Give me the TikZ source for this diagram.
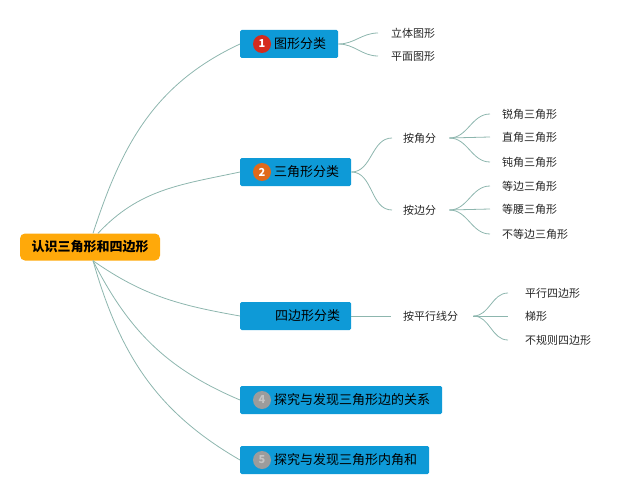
\documentclass[tikz,border=0pt]{standalone}
\usepackage{fontspec}
\setmainfont{Noto Sans CJK SC}
\usetikzlibrary{positioning}
\definecolor{boxblue}{HTML}{0E9AD7}
\definecolor{rootorange}{HTML}{FFA90A}
\definecolor{branchline}{HTML}{8DB6AE}
\definecolor{dotred}{HTML}{D52B1E}
\definecolor{dotorange}{HTML}{E06A1B}
\definecolor{dotgrey}{HTML}{9C9C9C}
\definecolor{dotgreytext}{HTML}{C4C4C4}

\begin{document}
\begin{tikzpicture}[x=1pt, y=1pt,
   root/.style={fill=rootorange, rounded corners=5pt, minimum width=140pt, minimum height=27pt,
      inner sep=0pt, font=\fontsize{13}{13}\selectfont\bfseries},
   topic/.style={fill=boxblue, rounded corners=1.5pt, minimum height=28pt, anchor=west,
      inner xsep=0pt, font=\fontsize{13}{13}\selectfont},
   numdot/.style={circle, fill=#1, minimum size=18pt, inner sep=0pt, text=white,
      font=\fontsize{11}{11}\selectfont\bfseries},
   leaf/.style={anchor=west, inner sep=0pt, font=\fontsize{11}{11}\selectfont, text=black!85},
   branch/.style={draw=branchline, line width=0.8pt}]
   \useasboundingbox (0,0) rectangle (640,-495);

   % Root
   \node[root] (root) at (90,-247) {认识三角形和四边形};

   % Main topics
   \node[topic] (t1) at (240,-44) {\hspace*{34pt}图形分类\hspace*{12pt}};
   \node[topic] (t2) at (240,-172) {\hspace*{34pt}三角形分类\hspace*{12pt}};
   \node[topic] (t3) at (240,-316) {\hspace*{35pt}四边形分类\hspace*{11pt}};
   \node[topic] (t4) at (240,-400) {\hspace*{34pt}探究与发现三角形边的关系\hspace*{12pt}};
   \node[topic] (t5) at (240,-460) {\hspace*{34pt}探究与发现三角形内角和\hspace*{12pt}};

   % Number dots
   \node[numdot=dotred] (d1) at ([xshift=22pt]t1.west) {1};
   \node[numdot=dotorange] (d2) at ([xshift=22pt]t2.west) {2};
   \node[numdot=dotgrey, text=dotgreytext] (d4) at ([xshift=22pt]t4.west) {4};
   \node[numdot=dotgrey, text=dotgreytext] (d5) at ([xshift=22pt]t5.west) {5};

   % Second level
   \node[leaf] (solid) at (391,-33) {立体图形};
   \node[leaf] (plane) at (391,-56) {平面图形};
   \node[leaf] (byangle) at (403,-138) {按角分};
   \node[leaf] (byside) at (403,-210) {按边分};
   \node[leaf] (byparallel) at (403,-316) {按平行线分};

   % Third level
   \node[leaf] (acute) at (502,-114) {锐角三角形};
   \node[leaf] (right) at (502,-137) {直角三角形};
   \node[leaf] (obtuse) at (502,-162) {钝角三角形};
   \node[leaf] (equi) at (502,-186) {等边三角形};
   \node[leaf] (isos) at (502,-209) {等腰三角形};
   \node[leaf] (scal) at (502,-234) {不等边三角形};
   \node[leaf] (para) at (525,-293) {平行四边形};
   \node[leaf] (trap) at (525,-316) {梯形};
   \node[leaf] (irreg) at (525,-340) {不规则四边形};

   % Branches from root
   \path[branch]
    ([xshift=3pt]root.north) edge[out=72, in=205] (t1.west)
    ([xshift=8pt]root.north) edge[out=47, in=192] (t2.west)
    ([xshift=3pt]root.south) edge[out=-35, in=170] (t3.west)
    ([xshift=3pt]root.south) edge[out=-63, in=157] (t4.west)
    ([xshift=3pt]root.south) edge[out=-74, in=150] (t5.west);

   % Branches to sub items
   \path[branch]
    (t1.east) edge[out=0, in=180] ([xshift=-13pt]solid.west)
    (t1.east) edge[out=0, in=180] ([xshift=-13pt]plane.west)
    (t2.east) edge[out=0, in=180] ([xshift=-11pt]byangle.west)
    (t2.east) edge[out=0, in=180] ([xshift=-11pt]byside.west)
    (t3.east) edge ([xshift=-12pt]byparallel.west)
    ([xshift=13pt]byangle.east) edge[out=0, in=180] ([xshift=-12pt]acute.west)
    ([xshift=13pt]byangle.east) edge ([xshift=-12pt]right.west)
    ([xshift=13pt]byangle.east) edge[out=0, in=180] ([xshift=-12pt]obtuse.west)
    ([xshift=13pt]byside.east) edge[out=0, in=180] ([xshift=-12pt]equi.west)
    ([xshift=13pt]byside.east) edge ([xshift=-12pt]isos.west)
    ([xshift=13pt]byside.east) edge[out=0, in=180] ([xshift=-12pt]scal.west)
    ([xshift=15pt]byparallel.east) edge[out=0, in=180] ([xshift=-17pt]para.west)
    ([xshift=15pt]byparallel.east) edge ([xshift=-17pt]trap.west)
    ([xshift=15pt]byparallel.east) edge[out=0, in=180] ([xshift=-17pt]irreg.west);
\end{tikzpicture}
\end{document}
